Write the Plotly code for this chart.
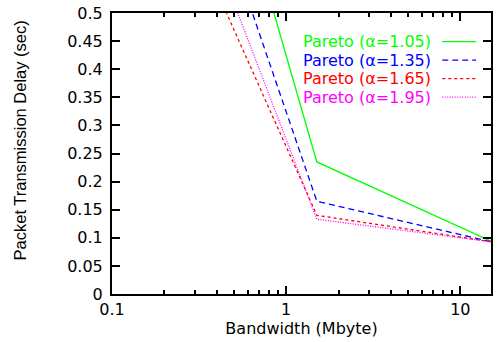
import plotly.graph_objects as go

bandwidth = [0.15, 1.5, 15]
names = ["Pareto (α=1.05)", "Pareto (α=1.35)", "Pareto (α=1.65)", "Pareto (α=1.95)"]
delay_105 = [1.31, 0.235, 0.094]
delay_135 = [1.07, 0.165, 0.093]
delay_165 = [0.834, 0.140, 0.093]
delay_195 = [0.941, 0.133, 0.093]
series = [delay_105, delay_135, delay_165, delay_195]
colors = ["#00ff00", "#0000ff", "#ff0000", "#ff00ff"]
dashes = ["solid", "6px,4px", "3px,3px", "1px,1.5px"]

x_ticks = [0.1, 1, 10]
x_tick_text = ["0.1", "1", "10"]
x_minor = [0.2, 0.3, 0.4, 0.5, 0.6, 0.7, 0.8, 0.9, 2, 3, 4, 5, 6, 7, 8, 9]
y_ticks = [0, 0.05, 0.1, 0.15, 0.2, 0.25, 0.3, 0.35, 0.4, 0.45, 0.5]
y_tick_text = ["0", "0.05", "0.1", "0.15", "0.2", "0.25", "0.3", "0.35", "0.4", "0.45", "0.5"]
x_title = "Bandwidth (Mbyte)"
y_title = "Packet Transmission Delay (sec)"

FONT = "DejaVu Sans, sans-serif"
FONT2 = "Liberation Sans, Arial, sans-serif"
W, H = 497, 342
ML, MR, MT, MB = 112, 4, 13, 48

fig = go.Figure()
for name, ys, c, d in zip(names, series, colors, dashes):
    fig.add_trace(go.Scatter(x=bandwidth, y=ys, mode="lines", name=name,
                             line=dict(color=c, width=1.3, dash=d),
                             showlegend=False))

pw = W - ML - MR
ph = H - MT - MB

def px(x):
    return (x - ML) / pw

def py(y):
    return (H - MB - y) / ph

# legend drawn manually (gnuplot style: text right-aligned, sample to the right)
rows_y = [41.7, 60.2, 78.7, 97.2]
text_right = 434
s0, s1 = 444, 478
for name, c, d, yp in zip(names, colors, dashes, rows_y):
    fig.add_annotation(x=px(text_right), y=py(yp), xref="paper", yref="paper",
                       text=name, showarrow=False, xanchor="right", yanchor="middle",
                       borderpad=0,
                       font=dict(family=FONT, size=16, color=c))
    fig.add_shape(type="line", xref="paper", yref="paper",
                  x0=px(s0), x1=px(s1), y0=py(yp), y1=py(yp),
                  line=dict(color=c, width=1.3, dash=d))

# y-axis title
fig.add_annotation(x=px(20), y=py(140), xref="paper", yref="paper",
                   text=y_title, showarrow=False, textangle=-90,
                   xanchor="center", yanchor="middle",
                   font=dict(family=FONT2, size=16.5, color="black"))

fig.update_layout(
    width=W, height=H,
    margin=dict(l=ML, r=MR, t=MT, b=MB),
    paper_bgcolor="white", plot_bgcolor="white",
    font=dict(family=FONT, size=16, color="black"),
    xaxis=dict(type="log", range=[-1, 1.1761], tickmode="array",
               tickvals=x_ticks, ticktext=x_tick_text,
               ticks="inside", ticklen=8, tickwidth=2, tickcolor="black",
               showline=True, linewidth=2, linecolor="black", mirror="ticks",
               showgrid=False, zeroline=False,
               minor=dict(tickmode="array", tickvals=x_minor, ticks="inside",
                          ticklen=4, tickwidth=2, tickcolor="black", showgrid=False),
               title=dict(text=x_title, standoff=3,
                          font=dict(family=FONT, size=16))),
    yaxis=dict(range=[0, 0.5], tickmode="array", tickvals=y_ticks, ticktext=y_tick_text,
               ticks="inside", ticklen=8, tickwidth=2, tickcolor="black",
               showline=True, linewidth=2, linecolor="black", mirror="ticks",
               showgrid=False, zeroline=False, ticklabelstandoff=4),
)

fig.write_html("out.html")
